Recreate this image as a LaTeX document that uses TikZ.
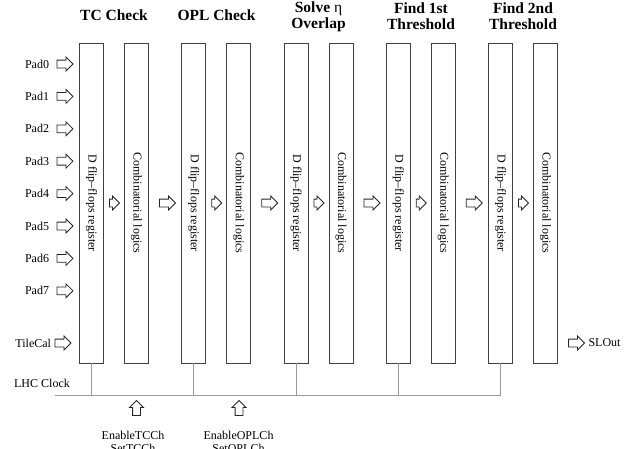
\documentclass[tikz,border=0pt]{standalone}
\usepackage{fontspec}
\setmainfont{Liberation Serif}
\usetikzlibrary{shapes.arrows, positioning}

\tikzset{
  reg/.style={draw=black!75, line width=0.9pt, minimum width=24pt, minimum height=320pt, inner sep=0pt},
  blk/.style={single arrow, draw=black!85, fill=white, line width=0.8pt, inner xsep=0pt, inner ysep=3.5pt,
              minimum width=13pt, single arrow head extend=3pt},
  stage/.style={font=\fontsize{15.5}{16}\selectfont\bfseries, align=center},
  sig/.style={font=\fontsize{12}{13}\selectfont},
  clk/.style={draw=black!40, line width=0.8pt}
}

\begin{document}
\begin{tikzpicture}[x=1pt, y=-1pt]
    \useasboundingbox (0,0) rectangle (641,448);

    % stage titles
    \node[stage] (s1) at (114,15) {TC Check};
    \node[stage] (s2) at (216.5,15) {OPL Check};
    \node[stage] (s3) at (318.5,16.5) {Solve {\mdseries η}\\Overlap};
    \node[stage] (s4) at (421,16.5) {Find 1st\\Threshold};
    \node[stage] (s5) at (523,16.5) {Find 2nd\\Threshold};

    % registers and logic blocks
    \foreach \p/\n in {0/1,1/2,2/3,3/4,4/5} {
      \node[reg] (d\n) at (91.5+102.25*\p,203) {};
      \node[reg] (c\n) at (136.5+102.25*\p,203) {};
      \node[sig, rotate=-90] (dt\n) at (d\n) {D flip--flops register};
      \node[sig, rotate=-90] (ct\n) at (c\n) {Combinatorial logics};
      \node[blk, minimum height=10pt] (ac\n) at (112.5+102.25*\p,203) {};
    }
    \foreach \p in {1,...,4}
      \node[blk, minimum height=16pt] (as\p) at (63.25+102.25*\p,203) {};

    % inputs
    \foreach \i in {0,...,7} {
      \node[blk, minimum height=16pt] (ip\i) at (63,64+32.4*\i) {};
      \node[sig, left=4pt of ip\i] (lp\i) {Pad\i};
    }
    \node[blk, minimum height=16pt] (itc) at (61,343) {};
    \node[sig, left=0pt of itc] (ltc) {TileCal};

    % output
    \node[blk, minimum height=16pt] (out) at (574.5,343) {};
    \node[sig, right=0pt of out] (lout) {SLOut};

    % clock
    \node[sig] (lhc) at (42,383) {LHC Clock};
    \coordinate (ck) at (55,395);
    \draw[clk] (ck) -- (d5.south |- ck);
    \foreach \n in {1,...,5}
      \draw[clk] (d\n.south) -- (d\n.south |- ck);

    % enables
    \node[blk, rotate=90, minimum height=15pt] (en1) at (136.5,410) {};
    \node[blk, rotate=90, minimum height=15pt] (en2) at (239,410) {};
    \node[sig, align=center, anchor=north] (le1) at (133,428) {EnableTCCh\\SetTCCh};
    \node[sig, align=center, anchor=north] (le2) at (238.5,428) {EnableOPLCh\\SetOPLCh};
\end{tikzpicture}
\end{document}
